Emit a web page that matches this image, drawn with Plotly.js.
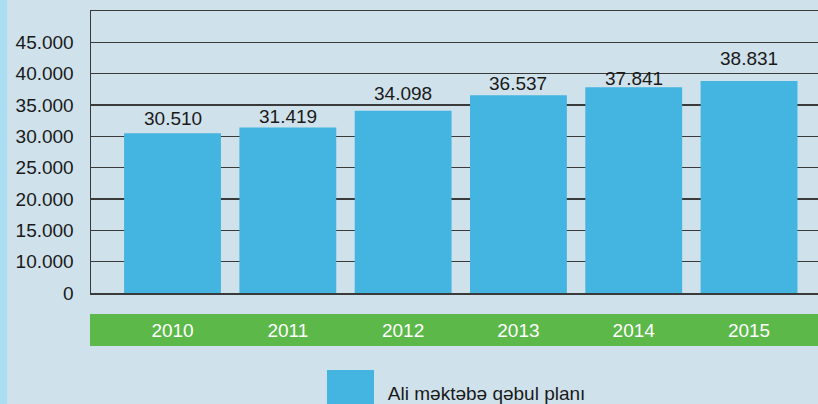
<!DOCTYPE html>
<html>
<head>
<meta charset="utf-8">
<script src="https://cdn.plot.ly/plotly-3.0.1.min.js"></script>
<style>html,body{margin:0;padding:0;background:#cfe1eb;}#chart{width:818px;height:404px;}</style>
</head>
<body>
<div id="chart"></div>
<script>
// Data
const years = ['2010', '2011', '2012', '2013', '2014', '2015'];
const admissionPlan = [30510, 31419, 34098, 36537, 37841, 38831];
const seriesName = 'Ali məktəbə qəbul planı';
const yTickVals = [5000, 10000, 15000, 20000, 25000, 30000, 35000, 40000, 45000, 50000];
const yTickText = ['0', '10.000', '15.000', '20.000', '25.000', '30.000', '35.000', '40.000', '45.000', ''];

// Style (label vertical offsets in px)
const labelShift = [15, 11, 17, 12, 9, 22];

function fmt(v) {
  return Math.floor(v / 1000) + '.' + String(v % 1000).padStart(3, '0');
}

const FONT = 'Liberation Sans, Arial, sans-serif';
const BAR = '#43b5e0';
const GREEN = '#5db84a';
const LINE = '#3a3a3a';

const trace = {
  type: 'bar',
  x: years,
  y: admissionPlan,
  name: seriesName,
  marker: {color: BAR},
  showlegend: true,
  hoverinfo: 'skip'
};

// category index of each year on the category axis
const annotations = years.map((yr, i) => ({
  x: years.indexOf(yr),
  y: admissionPlan[i],
  xref: 'x', yref: 'y',
  text: fmt(admissionPlan[i]),
  showarrow: false,
  yanchor: 'middle',
  yshift: labelShift[i],
  font: {family: FONT, size: 19, color: '#1a1a1a'}
}));

const layout = {
  width: 818, height: 404,
  margin: {l: 91, r: 0, t: 11, b: 111, pad: 0, autoexpand: false},
  paper_bgcolor: '#cfe1eb',
  plot_bgcolor: '#cfe1eb',
  bargap: 0.16,
  showlegend: true,
  legend: {
    x: 0.3533, xanchor: 'left', xref: 'paper',
    y: -0.352, yanchor: 'middle', yref: 'paper',
    bgcolor: 'rgba(0,0,0,0)',
    font: {family: FONT, size: 19, color: '#1a1a1a'}
  },
  xaxis: {
    type: 'category',
    range: [-0.707, 5.598],
    showgrid: false,
    showline: true, mirror: true,
    linecolor: LINE, linewidth: 1.5,
    ticks: '',
    ticklabelstandoff: 20,
    tickfont: {family: FONT, size: 19, color: '#ffffff'},
    zeroline: false,
    fixedrange: true
  },
  yaxis: {
    range: [5000, 50000],
    tickmode: 'array',
    tickvals: yTickVals,
    ticktext: yTickText,
    showgrid: true, gridcolor: LINE, gridwidth: 1.3,
    showline: true, linecolor: LINE, linewidth: 1.5,
    zeroline: false,
    ticks: '',
    ticklabelstandoff: 12,
    tickfont: {family: FONT, size: 19, color: '#1a1a1a'},
    fixedrange: true
  },
  shapes: [
    {type: 'rect', xref: 'paper', yref: 'paper', x0: -0.0014, x1: 1.0, y0: -0.188, y1: -0.0745,
     fillcolor: GREEN, line: {width: 0}, layer: 'below'},
    {type: 'rect', xref: 'paper', yref: 'paper', x0: -0.1252, x1: -0.1155, y0: -0.40, y1: 1.05,
     fillcolor: '#aadcf2', line: {width: 0}, layer: 'below'},
    {type: 'rect', xref: 'paper', yref: 'paper', x0: 0.3246, x1: 0.3893, y0: -0.40, y1: -0.273,
     fillcolor: BAR, line: {width: 0}, layer: 'below'}
  ],
  annotations: annotations
};

Plotly.newPlot('chart', [trace], layout, {displayModeBar: false, staticPlot: true});
</script>
</body>
</html>
